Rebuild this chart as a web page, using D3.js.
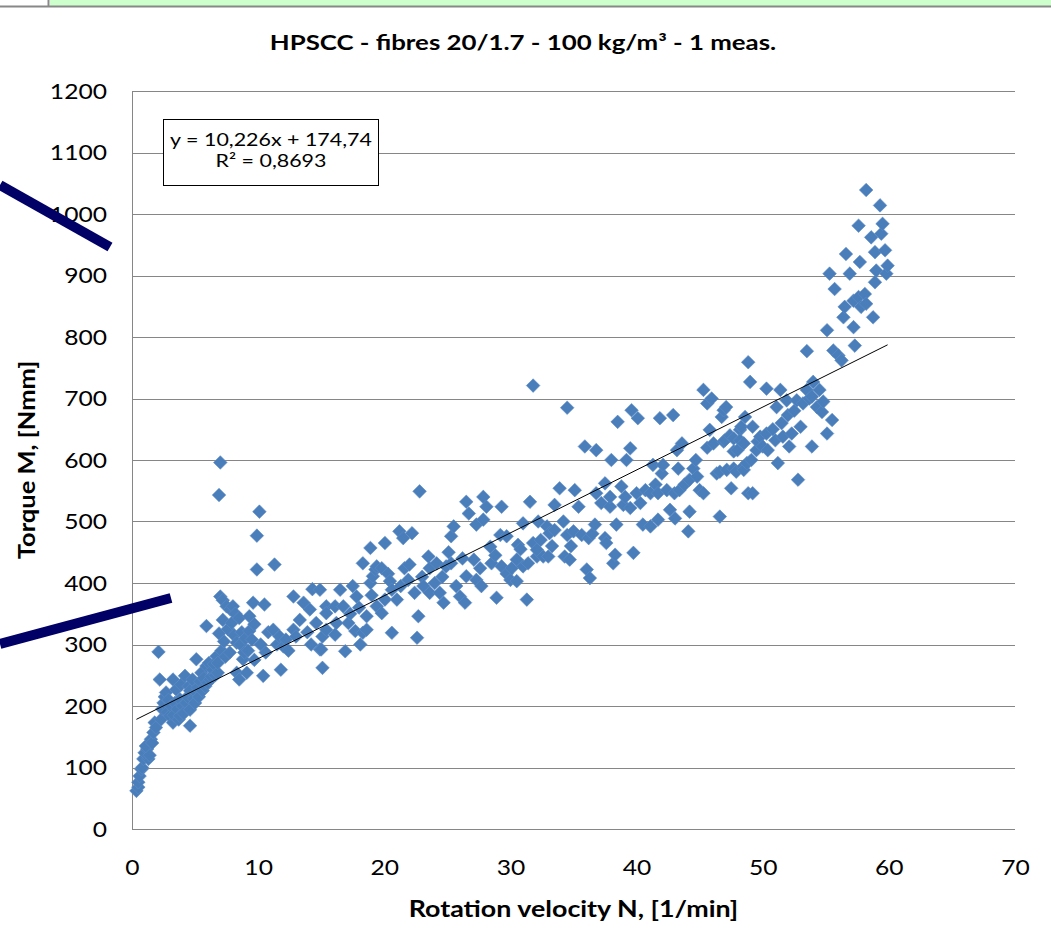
<!DOCTYPE html>
<html>
<head>
<meta charset="utf-8">
<script src="https://cdn.jsdelivr.net/npm/d3@7"></script>
<style>
body { margin: 0; background: #fff; }
svg { display: block; font-family: Lato, "Open Sans", sans-serif; }
</style>
</head>
<body>
<div id="chart"></div>
<script>
const svgWidth = 1051;
const svgHeight = 946;

const chartMargin = { top: 91, right: 36, bottom: 117, left: 132 };
const chartWidth = svgWidth - chartMargin.left - chartMargin.right;
const chartHeight = svgHeight - chartMargin.top - chartMargin.bottom;

const pointsLow = [
  [0.35,62],[0.5,68],[0.5,76],[0.6,86],[0.75,97],[0.8,100],[0.9,114],[1.3,114],[1,124],[1.2,130],
  [1.4,120],[1.1,135],[1.5,146],[1.6,140],[1.7,157],[1.8,173],[1.9,165],[2.1,288],[2.2,243],[2.3,178],
  [2.4,195],[2.5,205],[2.6,215],[2.7,222],[2.8,190],[2.9,210],[3,184],[3.1,200],[3.25,173],[3.25,243],
  [3.3,185],[3.4,205],[3.5,227],[3.6,195],[3.7,178],[3.8,184],[3.8,211],[3.9,235],[4,200],[4.1,188],
  [4.2,249],[4.3,205],[4.4,215],[4.5,232],[4.6,168],[4.6,194],[4.6,225],[4.8,243],[4.9,212],[5,205],
  [5.1,222],[5.1,276],[5.2,230],[5.3,215],[5.4,240],[5.5,254],[5.6,225],[5.7,245],[5.8,232],[5.9,265],
  [5.9,330],[6,238],[6.1,270],[6.2,243],[6.3,248],[6.4,259],[6.5,268],[6.6,250],[6.7,281],[6.8,254],
  [6.8,270],[6.9,543],[6.9,318],[7,596],[7,378],[7.1,290],[7.2,340],[7.2,372],[7.3,305],[7.4,280],
  [7.5,362],[7.6,325],[7.75,287],[7.8,357],[7.9,335],[8,362],[8.1,315],[8.2,350],[8.3,303],[8.3,254],
  [8.5,343],[8.5,243],[8.6,300],[8.7,320],[8.8,276],[8.9,287],[9,310],[9.1,254],[9.2,290],[9.3,322],
  [9.3,346],[9.5,308],[9.6,368],[9.7,333],[9.7,275],[9.9,477],[9.9,422],[10.1,516],[10.2,300],[10.4,249],
  [10.5,365],[10.6,287],[10.8,320],[11.2,324],[11.3,430],[11.5,300],[11.7,313],[11.8,259],[12,297],[12.2,308],
  [12.4,290],[12.8,324],[12.8,378],[13,313],[13.3,340],[13.6,368],[13.9,320],[14.1,357],[14.2,300],[14.3,390],
  [14.6,335],[14.9,292],[14.9,389]
];

const pointsMid = [
  [15.1,313],[15.1,262],[15.4,362],[15.4,324],[15,292],[15.4,351],[16.1,316],[16.2,335],[16.1,362],[16.5,389],
  [16.75,362],[16.9,289],[17.15,335],[17.3,350],[17.5,395],[17.7,322],[17.8,378],[18,360],[18.1,300],[18.3,319],
  [18.3,432],[18.6,324],[18.6,346],[18.9,457],[18.9,400],[19,380],[19.1,411],[19.3,422],[19.4,427],[19.4,362],
  [19.8,424],[19.8,351],[20.05,465],[20.05,373],[20.3,415],[20.45,403],[20.6,389],[20.6,319],[21,373],[21.2,484],
  [21.3,395],[21.5,473],[21.6,424],[21.9,405],[22,430],[22.2,481],[22.4,384],[22.6,311],[22.7,346],[22.8,549],
  [23,410],[23.1,395],[23.5,443],[23.6,424],[23.6,384],[24,400],[24.15,432],[24.4,384],[24.6,410],[24.7,368],
  [24.9,427],[25.1,450],[25.3,432],[25.3,476],[25.5,492],[25.7,395],[26,378],[26.2,440],[26.4,368],[26.5,411],
  [26.5,532],[26.7,513],[27.1,438],[27.3,405],[27.3,495],[27.6,424],[27.7,395],[27.85,503],[27.85,540],[28.1,524],
  [28.4,459],[28.5,432],[28.8,445],[28.9,376],[29.2,478],[29.3,524],[29.3,427],[29.7,476],[29.7,415],[30,405],
  [30.1,424],[30.5,403],[30.5,438],[30.6,462],[30.8,455],[31,497],[31,427],[31.3,373],[31.4,432],[31.55,532],
  [31.8,465],[31.8,721]
];

const pointsHigh = [
  [32.1,443],[32.1,454],[32.2,500],[32.4,470],[32.6,443],[32.9,492],[33,443],[33.1,481],[33.3,460],[33.5,486],
  [33.5,527],[33.9,554],[34.2,500],[34.3,443],[34.5,478],[34.5,685],[34.7,438],[34.8,460],[35,484],[35.1,551],
  [35.4,524],[35.65,478],[35.9,622],[36.05,422],[36.2,473],[36.3,408],[36.5,480],[36.7,495],[36.8,546],[36.8,616],
  [37.2,530],[37.5,562],[37.5,473],[37.6,465],[37.9,524],[37.9,540],[38,600],[38.15,432],[38.3,446],[38.4,495],
  [38.5,662],[38.8,557],[38.95,527],[39.1,540],[39.2,600],[39.5,619],[39.5,522],[39.6,681],[39.75,449],[40,546],
  [40.1,668],[40.3,530],[40.5,495],[40.7,551],[41.1,546],[41.1,492],[41.3,592],[41.5,560],[41.7,546],[41.7,503],
  [41.85,668],[42,578],[42.1,592],[42.4,551],[42.65,519],[42.9,673],[43,546],[43.05,505],[43.2,616],[43.3,586],
  [43.4,551],[43.6,627],[43.8,560],[44.1,484],[44.2,568],[44.2,516],[44.5,586],[44.7,600],[44.8,573],[45,551],
  [45.3,546],[45.3,714],[45.6,692],[45.6,620],[45.8,649],[45.95,700],[46.1,627],[46.35,578],[46.6,508],[46.6,581],
  [46.75,670],[46.9,630],[46.9,681],[47,632],[47.1,686],[47.15,584],[47.4,640],[47.5,554],[47.7,635],[47.7,586],
  [47.7,614],[47.9,581]
];

const pointsTop = [
  [48,616],[48.2,649],[48.2,632],[48.3,654],[48.45,589],[48.5,627],[48.5,584],[48.6,670],[48.75,595],[48.85,759],
  [48.85,546],[49,727],[49.1,600],[49.2,654],[49.2,546],[49.5,616],[49.6,630],[49.8,638],[50,622],[50.3,716],
  [50.3,643],[50.4,616],[50.8,650],[51,632],[51.1,686],[51.2,595],[51.4,714],[51.5,660],[51.6,638],[51.9,697],
  [52,673],[52.1,622],[52.3,643],[52.5,680],[52.7,697],[52.8,568],[53,654],[53.2,692],[53.5,714],[53.5,777],
  [53.7,700],[53.9,703],[53.9,622],[54,727],[54.3,686],[54.5,714],[54.7,678],[54.8,695],[55.1,643],[55.1,811],
  [55.3,903],[55.5,665],[55.6,778],[55.7,878],[56,770],[56.25,762],[56.4,832],[56.5,849],[56.6,935],[56.9,903],
  [57.2,859],[57.2,816],[57.3,786],[57.6,981],[57.6,865],[57.7,922],[57.8,849],[58.1,870],[58.2,1039],[58.2,854],
  [58.6,962],[58.75,832],[58.9,938],[58.9,889],[59,908],[59.3,1014],[59.4,968],[59.5,984],[59.7,941],[59.8,903],
  [59.9,916]
];

const xTicks = [0, 10, 20, 30, 40, 50, 60, 70];
const yTicks = [0, 100, 200, 300, 400, 500, 600, 700, 800, 900, 1000, 1100, 1200];

// linear trend as printed on the chart
const trendSlope = 10.226;
const trendIntercept = 174.74;
const trendLabel = ['y = 10,226x + 174,74', 'R\u00b2 = 0,8693'];

const allPoints = pointsLow.concat(pointsMid, pointsHigh, pointsTop);

// the source image is a bit wider than tall, so text is stretched sideways
function stretch(sel, sx) {
  sel.each(function() {
    const t = d3.select(this);
    const x0 = +t.attr('x') || 0;
    t.attr('x', x0 / sx).attr('transform', `scale(${sx},1)`);
  });
}

const svg = d3.select('#chart')
  .append('svg')
  .attr('width', svgWidth)
  .attr('height', svgHeight);

// spreadsheet strip at the very top
svg.append('rect').attr('x', 50).attr('y', 0).attr('width', svgWidth - 50).attr('height', 6).attr('fill', '#ccffcc');
svg.append('line').attr('x1', 0).attr('x2', svgWidth).attr('y1', 6.5).attr('y2', 6.5).attr('stroke', '#888').attr('stroke-width', 2);
svg.append('line').attr('x1', 48.5).attr('x2', 48.5).attr('y1', 0).attr('y2', 6).attr('stroke', '#888').attr('stroke-width', 2);

const x = d3.scaleLinear().domain([0, 70]).range([0, chartWidth]);
const y = d3.scaleLinear().domain([0, 1200]).range([chartHeight, 0]);

const g = svg.append('g')
  .attr('transform', `translate(${chartMargin.left},${chartMargin.top})`);

// horizontal grid
g.append('g')
  .selectAll('line')
  .data(yTicks)
  .join('line')
  .attr('x1', 0)
  .attr('x2', chartWidth)
  .attr('y1', d => Math.round(y(d)) + 0.5)
  .attr('y2', d => Math.round(y(d)) + 0.5)
  .attr('stroke', '#868686')
  .attr('stroke-width', 1);

// left axis line
g.append('line')
  .attr('x1', 0.5).attr('x2', 0.5)
  .attr('y1', 0).attr('y2', chartHeight)
  .attr('stroke', '#868686');

const yAxis = g.append('g')
  .call(d3.axisLeft(y).tickValues(yTicks).tickFormat(d3.format('d')).tickSize(0).tickPadding(25));
yAxis.select('.domain').remove();
yAxis.selectAll('text')
  .attr('font-family', 'Lato, sans-serif')
  .attr('font-size', 22)
  .attr('fill', '#000')
  .call(stretch, 1.12);

const xAxis = g.append('g')
  .attr('transform', `translate(0,${chartHeight})`)
  .call(d3.axisBottom(x).tickValues(xTicks).tickSize(0).tickPadding(30));
xAxis.select('.domain').remove();
xAxis.selectAll('text')
  .attr('font-family', 'Lato, sans-serif')
  .attr('font-size', 22)
  .attr('fill', '#000')
  .call(stretch, 1.12);

// markers
const diamond = d3.symbol().type(d3.symbolDiamond2).size(118);
g.append('g')
  .selectAll('path')
  .data(allPoints)
  .join('path')
  .attr('transform', d => `translate(${x(d[0])},${y(d[1])})`)
  .attr('d', diamond)
  .attr('fill', '#4a7ebb')
  .attr('stroke', '#5a8bc6')
  .attr('stroke-width', 0.6);

// trend line
const xMin = d3.min(allPoints, d => d[0]);
const xMax = d3.max(allPoints, d => d[0]);
g.append('line')
  .attr('x1', x(xMin))
  .attr('y1', y(trendSlope * xMin + trendIntercept))
  .attr('x2', x(xMax))
  .attr('y2', y(trendSlope * xMax + trendIntercept))
  .attr('stroke', '#000')
  .attr('stroke-width', 1);

// equation box
const box = g.append('g').attr('transform', 'translate(31,28)');
box.append('rect')
  .attr('x', 0.5).attr('y', 0.5)
  .attr('width', 215).attr('height', 66)
  .attr('fill', '#fff')
  .attr('stroke', '#000');
box.selectAll('text')
  .data(trendLabel)
  .join('text')
  .attr('x', 108)
  .attr('y', (d, i) => 27 + i * 21)
  .attr('text-anchor', 'middle')
  .attr('font-size', 18)
  .text(d => d)
  .call(stretch, 1.19);

// titles
svg.append('text')
  .attr('x', 523)
  .attr('y', 50)
  .attr('text-anchor', 'middle')
  .attr('font-size', 21)
  .attr('font-weight', 'bold')
  .text('HPSCC - fibres 20/1.7 - 100 kg/m\u00b3 - 1 meas.')
  .call(stretch, 1.23);

svg.append('text')
  .attr('x', chartMargin.left + chartWidth / 2)
  .attr('y', 917)
  .attr('text-anchor', 'middle')
  .attr('font-size', 22)
  .attr('font-weight', 'bold')
  .text('Rotation velocity N, [1/min]')
  .call(stretch, 1.22);

svg.append('text')
  .attr('transform', `translate(35,${chartMargin.top + chartHeight / 2}) rotate(-90) scale(1.16,1)`)
  .attr('text-anchor', 'middle')
  .attr('font-size', 22)
  .attr('font-weight', 'bold')
  .text('Torque M, [Nmm]');

// dark connector strokes overlapping the chart on the left
const connectors = [
  [[0, 185], [110, 247]],
  [[0, 644], [171, 598]]
];
svg.append('g')
  .selectAll('line')
  .data(connectors)
  .join('line')
  .attr('x1', d => d[0][0]).attr('y1', d => d[0][1])
  .attr('x2', d => d[1][0]).attr('y2', d => d[1][1])
  .attr('stroke', '#000066')
  .attr('stroke-width', 10);
</script>
</body>
</html>
